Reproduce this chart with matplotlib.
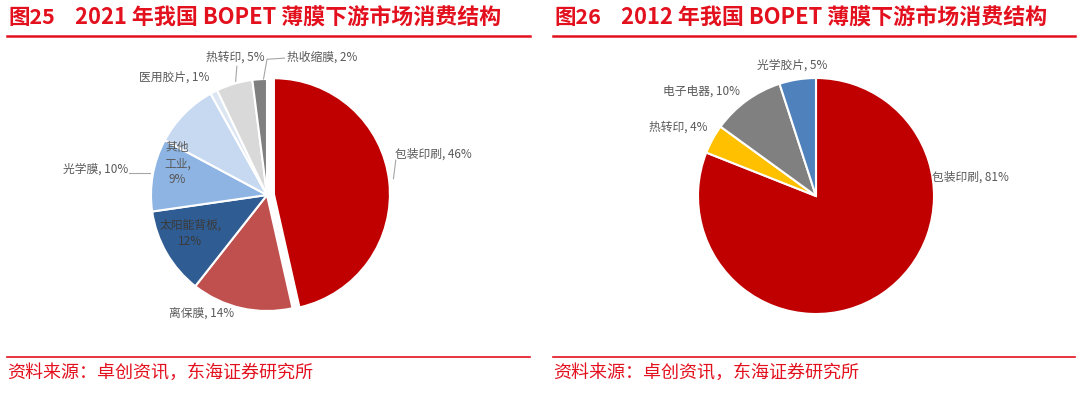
import matplotlib.pyplot as plt
import numpy as np

plt.rcParams['font.family'] = ['Noto Sans CJK SC', 'DejaVu Sans']

# 2021 data
cats_2021 = ['包装印刷', '离保膜', '太阳能背板', '光学膜', '其他工业', '医用胶片', '热转印', '热收缩膜']
vals_2021 = [46, 14, 12, 10, 9, 1, 5, 2]
colors_2021 = ['#C00000', '#C0504D', '#2F5C92', '#8DB4E2', '#C6D9F1', '#DCE6F2', '#D9D9D9', '#7F7F7F']

# 2012 data
cats_2012 = ['包装印刷', '热转印', '电子电器', '光学胶片']
vals_2012 = [81, 4, 10, 5]
colors_2012 = ['#C00000', '#FFC000', '#808080', '#4F81BD']

RED = '#E3101E'
W, H = 1080, 395
fig = plt.figure(figsize=(W / 100, H / 100), dpi=100)

# overlay in pixel coords for titles / rules
bg = fig.add_axes([0, 0, 1, 1])
bg.set_xlim(0, W)
bg.set_ylim(H, 0)
bg.axis('off')

panels = [(7, 530, '图25', '2021 年我国 BOPET 薄膜下游市场消费结构'),
          (553, 1075, '图26', '2012 年我国 BOPET 薄膜下游市场消费结构')]
for x0, x1, fig_no, title in panels:
    bg.text(x0 + 1, 18, fig_no, color=RED, fontsize=15.5, fontweight='bold', va='center', ha='left')
    bg.text(x0 + 68, 18, title, color=RED, fontsize=15.8, fontweight='bold', va='center', ha='left')
    bg.plot([x0, x1], [36, 36], color=RED, lw=1.8)
    bg.plot([x0, x1], [357, 357], color=RED, lw=1.2)
    bg.text(x0, 373, '资料来源：卓创资讯，东海证券研究所', color=RED, fontsize=13, va='center', ha='left')


def pie_axes(cx, cy, r):
    half = r * 1.3
    ax = fig.add_axes([(cx - half) / W, (H - cy - half) / H, 2 * half / W, 2 * half / H])
    return ax


def fix_axes(ax):
    ax.set_xlim(-1.3, 1.3)
    ax.set_ylim(-1.3, 1.3)
    ax.set_aspect('equal')
    ax.axis('off')


LBL = dict(fontsize=8.5, color='#595959')
LINE = dict(color='#A6A6A6', lw=0.8)

# left pie
ax1 = pie_axes(267, 195, 116)
explode = [0.06] + [0] * (len(vals_2021) - 1)
ax1.pie(vals_2021, colors=colors_2021, startangle=90, counterclock=False, explode=explode,
        radius=1.0, wedgeprops=dict(edgecolor='white', linewidth=1.5))
fix_axes(ax1)
lbl_2021 = [f'{c}, {v}%' for c, v in zip(cats_2021, vals_2021)]
ax1.text(1.1, 0.35, lbl_2021[0], ha='left', va='center', **LBL)
ax1.plot([1.09, 1.11], [0.14, 0.3], **LINE)
ax1.text(-0.28, -1.02, lbl_2021[1], ha='right', va='center', **LBL)
ax1.text(-0.66, -0.33, '太阳能背板,\n12%', ha='center', va='center', linespacing=1.4,
         fontsize=8.5, color='#3A3A3A')
ax1.text(-1.2, 0.22, lbl_2021[3], ha='right', va='center', **LBL)
ax1.plot([-1.19, -1.01], [0.19, 0.19], **LINE)
ax1.text(-0.77, 0.27, '其他\n工业,\n9%', ha='center', va='center', linespacing=1.3, **LBL)
ax1.text(-0.5, 1.02, lbl_2021[5], ha='right', va='center', **LBL)
ax1.text(-0.02, 1.19, lbl_2021[6], ha='right', va='center', **LBL)
ax1.plot([-0.27, -0.26], [0.98, 1.11], **LINE)
ax1.text(0.17, 1.19, lbl_2021[7], ha='left', va='center', **LBL)
ax1.plot([-0.03, 0.0, 0.15], [1.0, 1.17, 1.18], **LINE)

# right pie
ax2 = pie_axes(816, 196, 118)
ax2.pie(vals_2012, colors=colors_2012, startangle=90, counterclock=False,
        radius=1.0, wedgeprops=dict(edgecolor='white', linewidth=1.5))
fix_axes(ax2)
lbl_2012 = [f'{c}, {v}%' for c, v in zip(cats_2012, vals_2012)]
ax2.text(0.98, 0.16, lbl_2012[0], ha='left', va='center', **LBL)
ax2.text(-0.92, 0.58, lbl_2012[1], ha='right', va='center', **LBL)
ax2.text(-0.64, 0.89, lbl_2012[2], ha='right', va='center', **LBL)
ax2.text(-0.2, 1.11, lbl_2012[3], ha='center', va='center', **LBL)

fig.savefig('out.png', dpi=100)
